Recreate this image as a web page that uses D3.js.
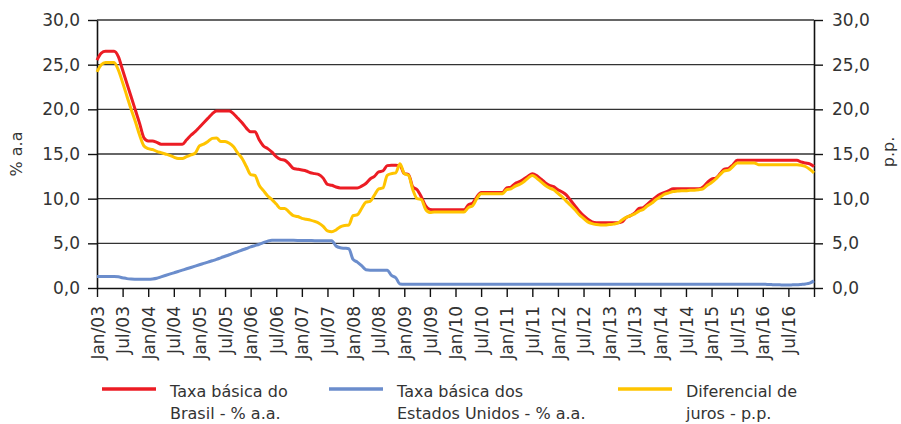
<!DOCTYPE html>
<html>
<head>
<meta charset="utf-8">
<script src="https://cdn.jsdelivr.net/npm/d3@7"></script>
<style>
  body { margin: 0; background: #fff; }
  svg { display: block; }
  text { font-family: "DejaVu Sans", sans-serif; fill: #333; }
</style>
</head>
<body>
<svg id="chart" width="901" height="424"></svg>
<script>
// Monthly values, Jan/03 .. Jan/17
var selic = [
  25.5, 26.3, 26.5, 26.5, 26.5, 25.9, 24.4, 22.9, 21.4, 19.9, 18.4, 16.8,
  16.45, 16.45, 16.3, 16.1, 16.1, 16.1, 16.1, 16.1, 16.1, 16.6, 17.1, 17.5,
  18.0, 18.5, 19.0, 19.5, 19.8, 19.8, 19.8, 19.8, 19.5, 19.0, 18.5, 17.9,
  17.5, 17.5, 16.6, 15.9, 15.6, 15.2, 14.7, 14.4, 14.3, 13.9, 13.4, 13.3,
  13.2, 13.1, 12.9, 12.8, 12.7, 12.3, 11.6, 11.5, 11.3, 11.2, 11.2, 11.2,
  11.2, 11.2, 11.4, 11.7, 12.2, 12.5, 13.0, 13.1, 13.7, 13.75, 13.75, 13.7,
  12.8, 12.7, 11.3, 11.0, 10.2, 9.2, 8.8, 8.75, 8.75, 8.75, 8.75, 8.75,
  8.75, 8.75, 8.75, 9.3, 9.5, 10.2, 10.7, 10.7, 10.7, 10.7, 10.7, 10.7,
  11.2, 11.3, 11.7, 11.9, 12.2, 12.5, 12.8, 12.6, 12.2, 11.8, 11.5, 11.35,
  11.0, 10.75, 10.4, 9.8, 9.2, 8.6, 8.1, 7.7, 7.4, 7.3, 7.3, 7.3,
  7.3, 7.3, 7.3, 7.4, 7.9, 8.1, 8.4, 8.9, 9.0, 9.4, 9.8, 10.2,
  10.5, 10.7, 10.9, 11.1, 11.1, 11.1, 11.1, 11.1, 11.1, 11.1, 11.3, 11.8,
  12.2, 12.3, 12.8, 13.3, 13.4, 13.8, 14.3, 14.3, 14.3, 14.3, 14.3, 14.3,
  14.3, 14.3, 14.3, 14.3, 14.3, 14.3, 14.3, 14.3, 14.3, 14.1, 14.0, 13.9,
  13.6
];

var fed = [
  1.3, 1.3, 1.3, 1.3, 1.3, 1.25, 1.15, 1.05, 1.0, 0.98, 0.97, 0.97,
  0.98, 1.02, 1.1, 1.25, 1.4, 1.55, 1.7, 1.85, 2.0, 2.15, 2.3, 2.45,
  2.6, 2.75, 2.9, 3.05, 3.2, 3.38, 3.55, 3.72, 3.9, 4.08, 4.25, 4.42,
  4.6, 4.75, 4.9, 5.08, 5.25, 5.35, 5.35, 5.35, 5.35, 5.35, 5.34, 5.33,
  5.32, 5.32, 5.31, 5.3, 5.3, 5.3, 5.3, 5.3, 4.7, 4.5, 4.45, 4.4,
  3.2, 2.9, 2.5, 2.05, 2.0, 2.0, 2.0, 2.0, 2.0, 1.4, 1.15, 0.45,
  0.42, 0.42, 0.42, 0.42, 0.42, 0.42, 0.42, 0.42, 0.42, 0.42, 0.42, 0.42,
  0.42, 0.42, 0.42, 0.42, 0.42, 0.42, 0.42, 0.42, 0.42, 0.42, 0.42, 0.42,
  0.42, 0.42, 0.42, 0.42, 0.42, 0.42, 0.42, 0.42, 0.42, 0.42, 0.42, 0.42,
  0.42, 0.42, 0.42, 0.42, 0.42, 0.42, 0.42, 0.42, 0.42, 0.42, 0.42, 0.42,
  0.42, 0.42, 0.42, 0.42, 0.42, 0.42, 0.42, 0.42, 0.42, 0.42, 0.42, 0.42,
  0.42, 0.42, 0.42, 0.42, 0.42, 0.42, 0.42, 0.42, 0.42, 0.42, 0.42, 0.42,
  0.42, 0.42, 0.42, 0.42, 0.42, 0.42, 0.42, 0.42, 0.42, 0.42, 0.42, 0.42,
  0.42, 0.4, 0.38, 0.36, 0.35, 0.34, 0.34, 0.35, 0.36, 0.4, 0.45, 0.55,
  0.8
];

var diferencial = [
  24.2, 25.0, 25.25, 25.25, 25.25, 24.4, 23.0, 21.5, 20.0, 18.6, 17.1, 15.9,
  15.6, 15.5, 15.3, 15.15, 15.0, 14.85, 14.65, 14.5, 14.5, 14.7, 14.9, 15.1,
  15.9, 16.1, 16.4, 16.75, 16.8, 16.4, 16.4, 16.2, 15.8, 15.1, 14.5, 13.6,
  12.7, 12.6, 11.5, 10.9, 10.3, 9.9, 9.4, 8.9, 8.9, 8.5, 8.1, 8.0,
  7.8, 7.7, 7.6, 7.45, 7.25, 6.9, 6.4, 6.3, 6.5, 6.85, 7.0, 7.05,
  8.1, 8.2, 8.9, 9.6, 9.7, 10.4, 11.1, 11.2, 12.6, 12.8, 12.9, 13.9,
  12.8, 12.6, 11.0, 10.0, 9.9, 8.8, 8.45, 8.5, 8.5, 8.5, 8.5, 8.5,
  8.5, 8.5, 8.5, 9.0, 9.2, 10.0, 10.55, 10.55, 10.55, 10.55, 10.55, 10.55,
  11.0, 11.1, 11.4, 11.6, 11.9, 12.3, 12.6, 12.3, 11.9, 11.5, 11.2, 11.0,
  10.6, 10.2, 9.7, 9.25, 8.75, 8.2, 7.8, 7.4, 7.2, 7.1, 7.05, 7.05,
  7.1, 7.15, 7.25, 7.6, 7.9, 8.1, 8.3, 8.6, 8.8, 9.2, 9.5, 9.9,
  10.2, 10.5, 10.65, 10.8, 10.85, 10.9, 10.9, 10.95, 10.95, 11.0, 11.1, 11.5,
  11.8, 12.2, 12.7, 13.1, 13.2, 13.6, 14.0, 14.0, 14.0, 14.0, 14.0, 13.8,
  13.8, 13.8, 13.8, 13.8, 13.8, 13.8, 13.8, 13.8, 13.8, 13.75, 13.6, 13.3,
  12.9
];

var tickLabels = [
  'Jan/03', 'Jul/03', 'Jan/04', 'Jul/04', 'Jan/05', 'Jul/05', 'Jan/06', 'Jul/06',
  'Jan/07', 'Jul/07', 'Jan/08', 'Jul/08', 'Jan/09', 'Jul/09', 'Jan/10', 'Jul/10',
  'Jan/11', 'Jul/11', 'Jan/12', 'Jul/12', 'Jan/13', 'Jul/13', 'Jan/14', 'Jul/14',
  'Jan/15', 'Jul/15', 'Jan/16', 'Jul/16'
];

var yTicks = [0, 5, 10, 15, 20, 25, 30];

var seriesNames = [
  ['Taxa básica do', 'Brasil - % a.a.'],
  ['Taxa básica dos', 'Estados Unidos - % a.a.'],
  ['Diferencial de', 'juros - p.p.']
];
var colors = ['#ec1c24', '#6b8dcc', '#ffc400'];

var svg = d3.select('#chart');

var x = d3.scaleLinear().domain([0, 168]).range([97, 814]);
var y = d3.scaleLinear().domain([0, 30]).range([288, 20]);

var fmt = function (d) { return d.toFixed(1).replace('.', ','); };

// gridlines
svg.append('g').selectAll('line')
  .data(yTicks.slice(1))
  .enter().append('line')
  .attr('x1', x(0)).attr('x2', x(168))
  .attr('y1', function (d) { return y(d); })
  .attr('y2', function (d) { return y(d); })
  .attr('stroke', '#333').attr('stroke-width', 1.4);

// x axis
var xAxis = svg.append('g')
  .attr('transform', 'translate(0,' + y(0) + ')')
  .call(d3.axisBottom(x)
    .tickValues(d3.range(0, 169, 6))
    .tickSize(9).tickSizeOuter(0)
    .tickFormat(function (d, i) { return tickLabels[i] || ''; }));
xAxis.selectAll('text')
  .attr('transform', 'rotate(-90)')
  .attr('text-anchor', 'end')
  .attr('x', -18).attr('y', 0).attr('dy', '0.36em')
  .style('font-size', '17px');

// y axes
var yLeft = svg.append('g')
  .attr('transform', 'translate(' + x(0) + ',0)')
  .call(d3.axisLeft(y).tickValues(yTicks).tickSize(9).tickSizeOuter(0).tickPadding(8).tickFormat(fmt));
var yRight = svg.append('g')
  .attr('transform', 'translate(' + x(168) + ',0)')
  .call(d3.axisRight(y).tickValues(yTicks).tickSize(9).tickSizeOuter(0).tickPadding(9).tickFormat(fmt));

[xAxis, yLeft, yRight].forEach(function (ax) {
  ax.selectAll('path.domain').attr('stroke', '#111').attr('stroke-width', 1.6);
  ax.selectAll('.tick line').attr('stroke', '#111').attr('stroke-width', 1.4);
  ax.selectAll('text').style('font-family', '"DejaVu Sans", sans-serif').style('fill', '#333');
});
yLeft.selectAll('text').style('font-size', '17px');
yRight.selectAll('text').style('font-size', '17px');

// axis titles
svg.append('text')
  .attr('transform', 'translate(22,154) rotate(-90)')
  .attr('text-anchor', 'middle')
  .style('font-size', '16px')
  .text('% a.a');
svg.append('text')
  .attr('transform', 'translate(894,152) rotate(-90)')
  .attr('text-anchor', 'middle')
  .style('font-size', '16px')
  .text('p.p.');

// lines
var line = d3.line()
  .x(function (d, i) { return x(i); })
  .y(function (d) { return y(d); })
  .curve(d3.curveMonotoneX);

[selic, fed, diferencial].forEach(function (s, k) {
  svg.append('path')
    .datum(s)
    .attr('fill', 'none')
    .attr('stroke', colors[k])
    .attr('stroke-width', 3)
    .attr('stroke-linejoin', 'round')
    .attr('d', line);
});

// legend
var legendX = [102, 329, 618];
var legend = svg.append('g').selectAll('g')
  .data(seriesNames)
  .enter().append('g')
  .attr('transform', function (d, i) { return 'translate(' + legendX[i] + ',0)'; });
legend.append('line')
  .attr('x1', 0).attr('x2', 54)
  .attr('y1', 389).attr('y2', 389)
  .attr('stroke', function (d, i) { return colors[i]; })
  .attr('stroke-width', 3.5);
var lt = legend.append('text')
  .attr('x', 68)
  .style('font-size', '16px');
lt.append('tspan').attr('x', 68).attr('y', 397).text(function (d) { return d[0]; });
lt.append('tspan').attr('x', 68).attr('y', 419).text(function (d) { return d[1]; });
</script>
</body>
</html>
